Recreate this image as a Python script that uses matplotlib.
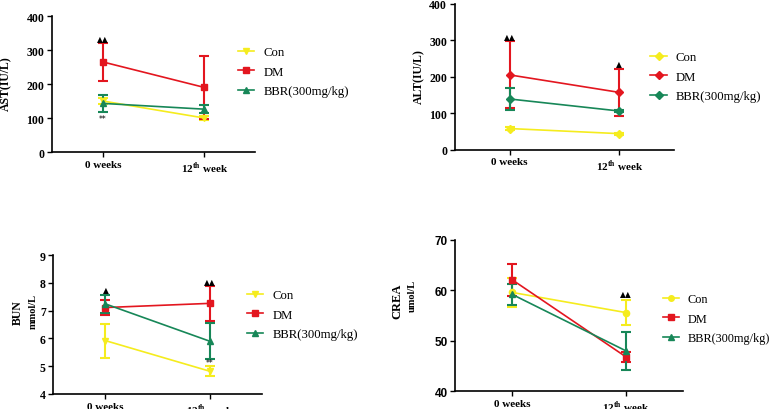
import matplotlib
matplotlib.use("Agg")
import matplotlib.pyplot as plt
from matplotlib.lines import Line2D

plt.rcParams['font.family'] = ['Liberation Serif', 'DejaVu Sans']
plt.rcParams['mathtext.fontset'] = 'custom'
plt.rcParams['mathtext.rm'] = 'Liberation Serif'
plt.rcParams['mathtext.bf'] = 'Liberation Serif:bold'

# datos
semanas = ['0 weeks', r'12$^{\mathbf{th}}$ week']
grupos = ['Con', 'DM', 'BBR(300mg/kg)']
colores = ['#F5EC1E', '#E3161F', '#178758']

ast_media = [[150, 100], [265, 190], [143, 126]]
ast_err = [[10, 5], [55, 92], [24, 12]]

alt_media = [[58, 44], [205, 157], [139, 106]]
alt_err = [[3, 3], [92, 65], [29, 3]]

bun_media = [[5.92, 4.82], [7.11, 7.26], [7.24, 5.9]]
bun_err = [[0.61, 0.18], [0.28, 0.63], [0.32, 0.65]]

crea_media = [[59.6, 55.6], [62.1, 46.8], [59.2, 48.0]]
crea_err = [[2.8, 2.5], [3.2, 1.0], [2.0, 3.7]]

fig = plt.figure(figsize=(7.74, 4.10), dpi=100)

paneles = [
    # posicion, medias, errores, ylim, yticks, marcadores, legend anchor, fuente ticks
    ([0.0672, 0.6268, 0.2623, 0.3317], ast_media, ast_err, (0, 400), [0, 100, 200, 300, 400],
     ['v', 's', '^'], (0.89, 0.59), 'Liberation Serif'),
    ([0.5875, 0.6324, 0.2837, 0.3561], alt_media, alt_err, (0, 400), [0, 100, 200, 300, 400],
     ['D', 'D', 'D'], (0.867, 0.50), 'Liberation Serif'),
    ([0.0689, 0.0366, 0.2693, 0.3390], bun_media, bun_err, (4, 9), [4, 5, 6, 7, 8, 9],
     ['v', 's', '^'], (0.904, 0.57), 'Liberation Serif'),
    ([0.5883, 0.0432, 0.2942, 0.3690], crea_media, crea_err, (40, 70), [40, 50, 60, 70],
     ['o', 's', '^'], (0.89, 0.48), 'Liberation Sans'),
]

ejes = []
for k, (pos, medias, errores, ylim, yticks, marcas, anchor, fuente) in enumerate(paneles):
    ax = fig.add_axes(pos)
    manijas = []
    for i in range(3):
        ax.errorbar([0, 1], medias[i], yerr=errores[i], color=colores[i], marker=marcas[i],
                    markersize=4.5, lw=1.2, elinewidth=1.5, capsize=3.5, capthick=1.5)
        manijas.append(Line2D([], [], color=colores[i], marker=marcas[i], markersize=4,
                              lw=1.2, label=grupos[i]))
    ax.set_xlim(-0.5, 1.5)
    ax.set_ylim(*ylim)
    ax.set_yticks(yticks)
    ax.set_xticks([0, 1])
    ax.set_xticklabels(semanas, fontweight='bold', fontsize=8, family='Liberation Serif')
    for lab in ax.get_yticklabels():
        lab.set_fontfamily(fuente)
        lab.set_fontweight('bold')
        lab.set_fontsize(8.5)
    ax.spines['top'].set_visible(False)
    ax.spines['right'].set_visible(False)
    ax.spines['left'].set_linewidth(1.2)
    ax.spines['bottom'].set_linewidth(1.2)
    ax.tick_params(length=3.5, width=1.0, pad=2)
    ax.legend(handles=manijas, loc='center left', bbox_to_anchor=anchor, frameon=False,
              fontsize=9.2 if k < 3 else 8.8, handlelength=1.3, labelspacing=0.6,
              borderaxespad=0, handletextpad=0.7)
    ejes.append(ax)

# anotaciones
marca = dict(ha='center', va='center', fontsize=5.5, family='DejaVu Sans', color='black')
ejes[0].text(0, 335, '▲▲', **marca)
ejes[0].text(0, 100, '**', **marca)
ejes[1].text(0, 310, '▲▲', **marca)
ejes[1].text(1, 237, '▲', **marca)
ejes[2].text(0, 7.77, '▲', **marca)
ejes[2].text(1, 8.04, '▲▲', **marca)
ejes[2].text(1, 5.13, '**', **marca)
ejes[3].text(1, 59.3, '▲▲', **marca)

# etiquetas eje y
fig.text(0.008, 1 - 84 / 410, 'AST(IU/L)', rotation=90, ha='center', va='center',
         fontsize=8.5, fontweight='bold')
fig.text(419 / 774, 1 - 77 / 410, 'ALT(IU/L)', rotation=90, ha='center', va='center',
         fontsize=8.5, fontweight='bold')
fig.text(18 / 774, 1 - 313 / 410, 'BUN', rotation=90, ha='center', va='center',
         fontsize=8.5, fontweight='bold')
fig.text(33 / 774, 1 - 312 / 410, 'mmol/L', rotation=90, ha='center', va='center',
         fontsize=7.5, fontweight='bold')
fig.text(397 / 774, 1 - 301 / 410, 'CREA', rotation=90, ha='center', va='center',
         fontsize=9, fontweight='bold')
fig.text(412 / 774, 1 - 296 / 410, 'umol/L', rotation=90, ha='center', va='center',
         fontsize=7.5, fontweight='bold')

fig.savefig('out.png', dpi=100)
